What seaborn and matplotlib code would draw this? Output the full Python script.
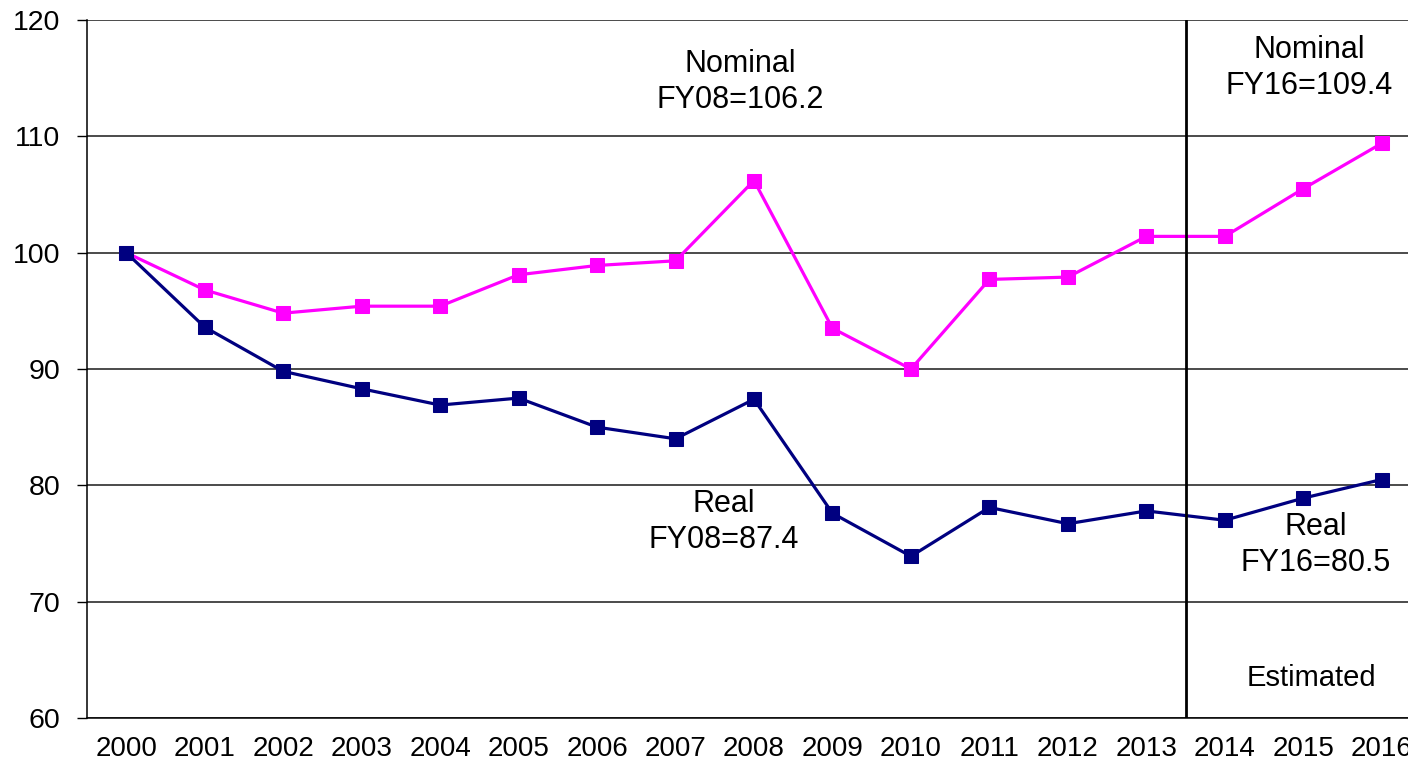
import numpy as np
import pandas as pd
import matplotlib
matplotlib.use("Agg")
import matplotlib.pyplot as plt
import seaborn as sns

years = [str(y) for y in range(2000, 2017)]
nominal = [100.0, 96.8, 94.8, 95.4, 95.4, 98.1, 98.9, 99.3, 106.2, 93.5, 90.0,
           97.7, 97.9, 101.4, 101.4, 105.5, 109.4]
real = [100.0, 93.6, 89.8, 88.3, 86.9, 87.5, 85.0, 84.0, 87.4, 77.6, 73.9,
        78.1, 76.7, 77.8, 77.0, 78.9, 80.5]
y_ticks = [60, 70, 80, 90, 100, 110, 120]

sns.set_style("white")
plt.rcParams['font.family'] = ['Liberation Sans', 'DejaVu Sans']
plt.rcParams['text.color'] = 'black'
plt.rcParams['xtick.color'] = 'black'
plt.rcParams['ytick.color'] = 'black'
plt.rcParams['xtick.labelcolor'] = 'black'
plt.rcParams['ytick.labelcolor'] = 'black'

fig = plt.figure(figsize=(14.08, 7.67), dpi=100)
ax = fig.add_axes([87/1408, 49/767, 1334/1408, 698/767])

pos = np.arange(len(years))
df = pd.DataFrame({"pos": pos, "Nominal": nominal, "Real": real})

sns.lineplot(data=df, x="pos", y="Nominal", ax=ax, color="#FF00FF", lw=2.3,
             marker="s", markersize=10.5, markeredgecolor="#FF00FF", zorder=3)
sns.lineplot(data=df, x="pos", y="Real", ax=ax, color="#000080", lw=2.3,
             marker="s", markersize=10.5, markeredgecolor="#000080", zorder=4)

ax.set_xlim(-0.5, len(years) - 0.5)
ax.set_ylim(60, 120)
ax.set_yticks(y_ticks)
ax.set_yticklabels([str(v) for v in y_ticks])
ax.set_xticks(pos)
ax.set_xticklabels(years)
ax.set_xticks(np.arange(-0.5, len(years)), minor=True)
ax.tick_params(axis="x", which="major", length=0, pad=13, labelsize=20)
ax.tick_params(axis="x", which="minor", length=6, width=1, color="black", direction="out")
ax.tick_params(axis="y", length=7, width=1, color="black", pad=12, labelsize=20.5, direction="out", left=True)
ax.set_xlabel("")
ax.set_ylabel("")

ax.grid(True, axis="y", color="#1a1a1a", lw=1.1)
ax.set_axisbelow(True)
for s in ["top", "right"]:
    ax.spines[s].set_visible(False)
for s in ["left", "bottom"]:
    ax.spines[s].set_color("black")
    ax.spines[s].set_linewidth(1.1)

ax.axvline(13.5, color="black", lw=2, zorder=5)

fs = 22
ls = 1.25
ax.text(7.82, 114.7, "Nominal\nFY08=106.2", ha="center", va="center", fontsize=fs, linespacing=ls)
ax.text(15.08, 115.9, "Nominal\nFY16=109.4", ha="center", va="center", fontsize=fs, linespacing=ls)
ax.text(7.62, 76.85, "Real\nFY08=87.4", ha="center", va="center", fontsize=fs, linespacing=ls)
ax.text(15.16, 74.9, "Real\nFY16=80.5", ha="center", va="center", fontsize=fs, linespacing=ls)
ax.text(15.11, 63.44, "Estimated", ha="center", va="center", fontsize=21)

fig.savefig("out.png", dpi=100)
